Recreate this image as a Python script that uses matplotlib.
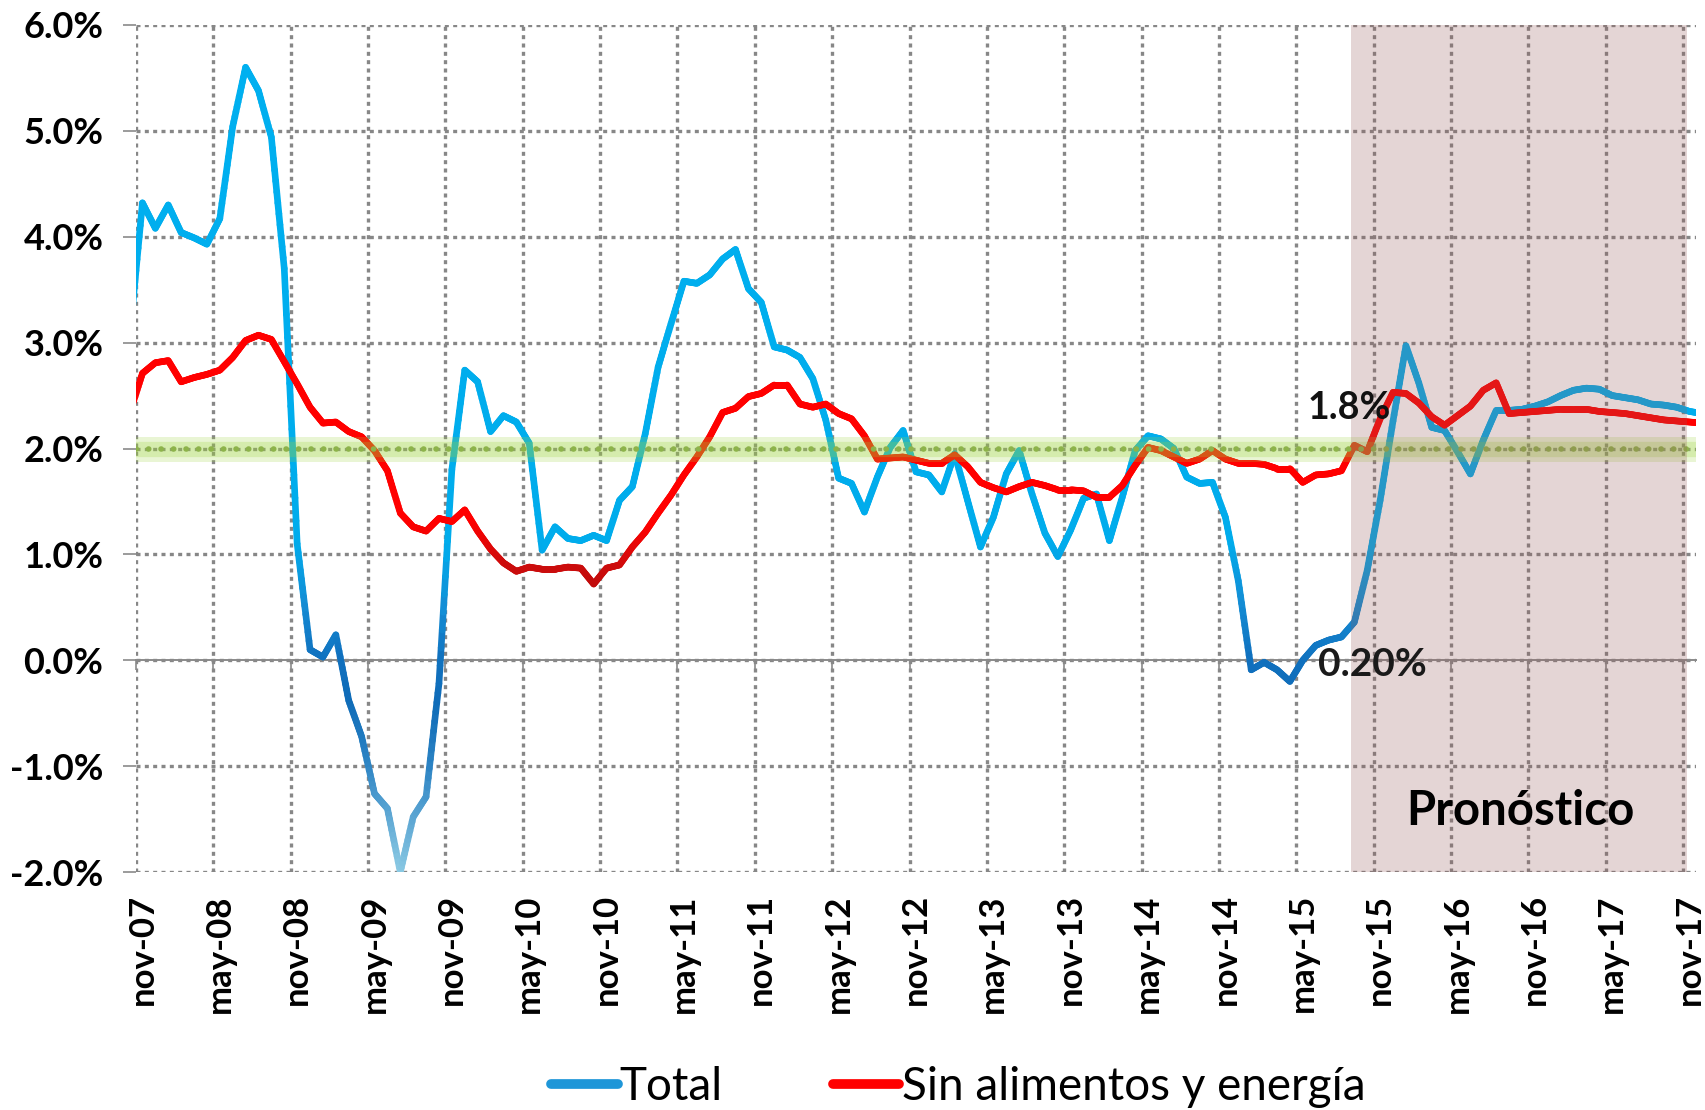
import numpy as np
import matplotlib
matplotlib.use("Agg")
import matplotlib.pyplot as plt
from matplotlib.collections import LineCollection
from matplotlib.lines import Line2D

plt.rcParams['font.family'] = ['Lato', 'DejaVu Sans']

# ---- data (monthly, oct-07 .. dec-17; first/last points fall outside the axis and are clipped)
total = [
    3.04,
    4.32, 4.08,
    4.30, 4.04, 3.99, 3.93, 4.17, 5.04, 5.60, 5.38, 4.94, 3.70, 1.10, 0.10,
    0.03, 0.24, -0.38, -0.72, -1.26, -1.40, -2.00, -1.48, -1.29, -0.22, 1.80, 2.74,
    2.63, 2.16, 2.31, 2.25, 2.05, 1.04, 1.26, 1.15, 1.13, 1.18, 1.13, 1.51,
    1.64, 2.14, 2.77, 3.18, 3.58, 3.56, 3.64, 3.79, 3.88, 3.51, 3.38, 2.96,
    2.93, 2.86, 2.66, 2.27, 1.72, 1.67, 1.40, 1.73, 2.01, 2.17, 1.78, 1.75,
    1.59, 1.95, 1.51, 1.07, 1.35, 1.76, 1.98, 1.57, 1.20, 0.98, 1.23, 1.53,
    1.57, 1.13, 1.54, 1.98, 2.12, 2.09, 2.00, 1.73, 1.67, 1.68, 1.35, 0.75,
    -0.09, -0.02, -0.09, -0.20, 0.00, 0.14, 0.19, 0.22, 0.36, 0.85, 1.51, 2.26,
    2.97, 2.62, 2.20, 2.17, 1.97, 1.76, 2.08, 2.36, 2.36, 2.37, 2.40, 2.44,
    2.50, 2.55, 2.57, 2.56, 2.50, 2.48, 2.46, 2.42, 2.41, 2.39, 2.35, 2.33,
]
core = [
    2.33,
    2.71, 2.81,
    2.83, 2.63, 2.67, 2.70, 2.74, 2.86, 3.02, 3.07, 3.03, 2.82, 2.61, 2.39,
    2.24, 2.25, 2.16, 2.11, 1.98, 1.79, 1.39, 1.26, 1.22, 1.34, 1.31, 1.42,
    1.22, 1.05, 0.92, 0.84, 0.88, 0.86, 0.86, 0.88, 0.87, 0.72, 0.87, 0.90,
    1.07, 1.21, 1.39, 1.56, 1.75, 1.92, 2.11, 2.34, 2.38, 2.49, 2.52, 2.60,
    2.60, 2.42, 2.39, 2.42, 2.33, 2.28, 2.12, 1.90, 1.91, 1.92, 1.89, 1.86,
    1.86, 1.94, 1.83, 1.68, 1.63, 1.59, 1.64, 1.68, 1.65, 1.61, 1.61, 1.60,
    1.54, 1.54, 1.65, 1.84, 2.01, 1.98, 1.92, 1.86, 1.90, 1.98, 1.90, 1.86,
    1.86, 1.85, 1.81, 1.81, 1.68, 1.75, 1.76, 1.79, 2.03, 1.97, 2.28, 2.53,
    2.52, 2.43, 2.30, 2.22, 2.31, 2.40, 2.55, 2.62, 2.33, 2.34, 2.35, 2.36,
    2.37, 2.37, 2.37, 2.35, 2.34, 2.33, 2.31, 2.29, 2.27, 2.26, 2.25, 2.24,
]
x_labels = ['nov-07', 'may-08', 'nov-08', 'may-09', 'nov-09', 'may-10', 'nov-10',
            'may-11', 'nov-11', 'may-12', 'nov-12', 'may-13', 'nov-13', 'may-14',
            'nov-14', 'may-15', 'nov-15', 'may-16', 'nov-16', 'may-17', 'nov-17']
y_ticks = [-2, -1, 0, 1, 2, 3, 4, 5, 6]
y_labels = ['-2.0%', '-1.0%', '0.0%', '1.0%', '2.0%', '3.0%', '4.0%', '5.0%', '6.0%']
target = 2.0
forecast_start = 94.25   # months after nov-07
forecast_end = 120.3
series_names = ['Total', 'Sin alimentos y energía']

# ---- figure
fig = plt.figure(figsize=(17.05, 11.10), dpi=100)
ax = fig.add_axes([136/1705, 1-872/1110, (1696-136)/1705, (872-25)/1110])

n = len(total)
x = np.arange(n) - 0.5   # month centres (nov-07 centre = 0.5)
ax.set_xlim(0, 121)
ax.set_ylim(-2, 6)

grid_col = '#878787'
ax.set_xticks(np.arange(0, 121, 6))
ax.set_yticks(y_ticks)
ax.set_yticklabels(y_labels)
ax.grid(True, color=grid_col, lw=2.4, ls=(0, (1.2, 1.3)), zorder=1)
for s in ['top', 'right', 'left']:
    ax.spines[s].set_visible(False)
ax.spines['bottom'].set_position(('data', 0))
ax.spines['bottom'].set_color('#8A8A8A')
ax.spines['bottom'].set_linewidth(1.4)
ax.spines['bottom'].set_zorder(2)
ax.tick_params(axis='x', direction='out', length=7, width=1.2, color='#8A8A8A',
               labelbottom=False)
ax.tick_params(axis='y', direction='out', length=9.5, width=1.2, color='#8A8A8A',
               pad=14, labelsize=26)
for lab in ax.get_yticklabels():
    lab.set_fontweight('bold')

sec = ax.secondary_xaxis(0.0)
sec.set_xticks(np.arange(0, 121, 6) + 0.5)
sec.set_xticklabels(x_labels, rotation=90, fontsize=25, fontweight='bold')
sec.tick_params(length=0, pad=16)
sec.spines['bottom'].set_visible(False)


def gradient_line(xv, yv, stops, lw, z):
    xv = np.asarray(xv, float); yv = np.asarray(yv, float)
    segs, cols = [], []
    sv = np.array([s[0] for s in stops])
    rgb = np.array([s[1] for s in stops]) / 255.0
    for i in range(len(xv) - 1):
        ts = np.linspace(0, 1, 13)
        px = xv[i] + (xv[i+1] - xv[i]) * ts
        py = yv[i] + (yv[i+1] - yv[i]) * ts
        for j in range(len(ts) - 1):
            segs.append([(px[j], py[j]), (px[j+1], py[j+1])])
            m = 0.5 * (py[j] + py[j+1])
            cols.append([np.interp(m, sv, rgb[:, c]) for c in range(3)])
    lc = LineCollection(segs, colors=cols, linewidths=lw, capstyle='round',
                        joinstyle='round', zorder=z)
    ax.add_collection(lc)


blue_stops = [(-2.0, (140, 202, 228)), (-1.5, (95, 168, 212)), (-1.0, (45, 132, 196)),
              (-0.4, (15, 108, 184)), (0.0, (16, 112, 190)), (0.5, (20, 140, 212)),
              (1.1, (0, 172, 236)), (6.0, (0, 176, 240))]
red_stops = [(0.6, (185, 10, 10)), (0.9, (205, 12, 12)), (1.3, (255, 0, 0)), (6.0, (255, 0, 0))]

gradient_line(x, total, blue_stops, 4.8, 3)
gradient_line(x, core, red_stops, 4.8, 3.2)

# target band (drawn over the lines, semi-transparent)
ax.axhline(target, color='#9BD23C', lw=18, alpha=0.22, zorder=4)
ax.axhline(target, color='#9BD23C', lw=11, alpha=0.25, zorder=4)
ax.axhline(target, color='#8DB34A', lw=4.0, ls=(0, (0.05, 2.2)),
           dash_capstyle='round', zorder=4.5)

# forecast shading
ax.axvspan(forecast_start, forecast_end, color=(150/255, 90/255, 90/255),
           alpha=0.25, lw=0, zorder=5)

ax.text(90.9, 2.38, '1.8%', fontsize=27, fontweight='bold', va='center', ha='left',
        color='#111111', zorder=6)
ax.text(91.7, -0.04, '0.20%', fontsize=28, fontweight='bold', va='center', ha='left',
        color='#1a1a1a', zorder=6)
ax.text(98.5, -1.42, 'Pronóstico', fontsize=34, fontweight='bold', va='center',
        ha='left', color='black', zorder=6)

handles = [Line2D([], [], color='#1E96D8', lw=7, solid_capstyle='round'),
           Line2D([], [], color='#FF0000', lw=7, solid_capstyle='round')]
fig.legend(handles, series_names, loc='center', bbox_to_anchor=(0.562, 0.021),
           ncol=2, frameon=False, fontsize=33, handlelength=1.45,
           handletextpad=0.05, columnspacing=2.4, borderpad=0)

fig.savefig('out.png', dpi=100)
